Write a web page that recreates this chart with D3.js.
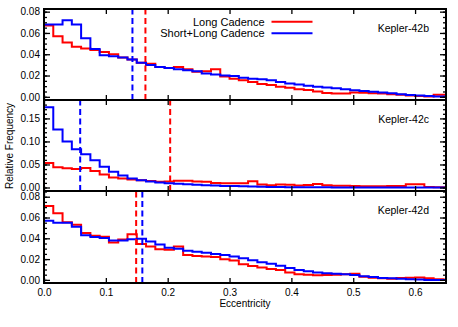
<!DOCTYPE html>
<html>
<head>
<meta charset="utf-8">
<script src="https://cdn.jsdelivr.net/npm/d3@7"></script>
<style>
  body { margin: 0; background: #fff; }
  svg text { font-family: "Liberation Sans", Arial, Helvetica, sans-serif; fill: #000; }
</style>
</head>
<body>
<div id="chart"></div>
<script>
// Chart size
const width = 458;
const height = 327;

// Eccentricity bins, 0.015 wide starting at 0
const binWidth = 0.015;
const eccMax = 0.65;
const xTicks = [0.0, 0.1, 0.2, 0.3, 0.4, 0.5, 0.6];

const planets = ["Kepler-42b", "Kepler-42c", "Kepler-42d"];
const seriesNames = ["Long Cadence", "Short+Long Cadence"];

// Relative frequency per bin
const longB = [0.067, 0.057, 0.051, 0.047, 0.0455, 0.044, 0.042, 0.040, 0.037, 0.035, 0.032,
  0.031, 0.028, 0.027, 0.028, 0.026, 0.0235, 0.024, 0.026, 0.019, 0.017, 0.0155, 0.014,
  0.012, 0.011, 0.0095, 0.0085, 0.007, 0.0065, 0.005, 0.0035, 0.003, 0.003, 0.004, 0.0038,
  0.0033, 0.003, 0.0025, 0.002, 0.0012, 0.0008, 0.0004, 0.002, 0.002];
const shortLongB = [0.068, 0.068, 0.072, 0.068, 0.055, 0.045, 0.039, 0.038, 0.037, 0.035, 0.032,
  0.030, 0.028, 0.027, 0.026, 0.025, 0.024, 0.022, 0.021, 0.020, 0.0195, 0.018, 0.017,
  0.0165, 0.0155, 0.014, 0.0125, 0.0115, 0.0105, 0.0095, 0.0088, 0.008, 0.007, 0.0062,
  0.0055, 0.0047, 0.004, 0.0033, 0.0025, 0.0018, 0.0012, 0.0008, 0.0004, 0.0003];

const longC = [0.053, 0.044, 0.042, 0.040, 0.0425, 0.036, 0.0285, 0.0215, 0.0195, 0.0175, 0.0155,
  0.014, 0.0127, 0.013, 0.0145, 0.0145, 0.013, 0.0125, 0.010, 0.009, 0.009, 0.009, 0.0134,
  0.0065, 0.005, 0.0065, 0.006, 0.0045, 0.0055, 0.0075, 0.005, 0.004, 0.004, 0.003, 0.0025,
  0.0025, 0.0025, 0.003, 0.0035, 0.007, 0.007, 0.001, 0.0005, 0.0003];
const shortLongC = [0.174, 0.126, 0.100, 0.083, 0.072, 0.059, 0.045, 0.034, 0.026, 0.0195, 0.0155,
  0.013, 0.011, 0.0095, 0.008, 0.007, 0.006, 0.005, 0.0042, 0.0035, 0.003, 0.0025, 0.002,
  0.0016, 0.0013, 0.001, 0.0008, 0.0006, 0.0005, 0.0004, 0.0003, 0, 0, 0, 0, 0, 0, 0, 0,
  0, 0, 0, 0, 0];

const longD = [0.071, 0.064, 0.0555, 0.053, 0.045, 0.0425, 0.0415, 0.036, 0.0388, 0.044, 0.0345,
  0.032, 0.0294, 0.029, 0.032, 0.024, 0.023, 0.0224, 0.022, 0.0198, 0.0186, 0.015, 0.0134,
  0.0118, 0.0105, 0.0096, 0.007, 0.0054, 0.005, 0.0045, 0.0048, 0.005, 0.0055, 0.006, 0.003,
  0.002, 0.0015, 0.0012, 0.0018, 0.002, 0.0022, 0.0015, 0.0005, 0.0003];
const shortLongD = [0.057, 0.055, 0.055, 0.051, 0.043, 0.0413, 0.0403, 0.038, 0.038, 0.039, 0.0395,
  0.037, 0.034, 0.031, 0.030, 0.028, 0.027, 0.026, 0.025, 0.024, 0.0224, 0.0208, 0.019,
  0.017, 0.0155, 0.0135, 0.0115, 0.0095, 0.0082, 0.007, 0.0064, 0.006, 0.0055, 0.0048,
  0.0035, 0.0028, 0.0018, 0.0015, 0.001, 0.0006, 0.0003, 0, 0, 0];

// Dashed marker lines (eccentricity)
const markLong = [0.164, 0.204, 0.149];
const markShortLong = [0.143, 0.0585, 0.159];

// Y tick values per panel
const yTicksMajor = [[0, 0.02, 0.04, 0.06, 0.08], [0, 0.05, 0.10, 0.15], [0, 0.02, 0.04, 0.06, 0.08]];
const yMinorStep = [0.005, 0.01, 0.005];

const longSeries = [longB, longC, longD];
const shortLongSeries = [shortLongB, shortLongC, shortLongD];

// Layout
const panelTop = [9, 100, 191];
const panelBottom = [100, 191, 283];
const yDomains = [[-0.003, 0.0825], [-0.0076, 0.19], [-0.003, 0.0855]];
const colors = ["#ff0000", "#0000ff"];

const svg = d3.select("#chart").append("svg")
  .attr("width", width)
  .attr("height", height);

const x = d3.scaleLinear().domain([0, eccMax]).range([44, 446]);

function stepPoints(vals) {
  const pts = [];
  vals.forEach(function (v, i) {
    const a = i * binWidth;
    const b = Math.min((i + 1) * binWidth, eccMax);
    if (a >= eccMax) return;
    pts.push([a, v], [b, v]);
  });
  return pts;
}

function styleAxis(g) {
  g.select(".domain").remove();
  g.selectAll(".tick line").attr("stroke", "#000").attr("stroke-width", 1.3);
  g.selectAll("text").attr("font-family", "Liberation Sans, Arial, sans-serif")
    .attr("font-size", 10).attr("fill", "#000");
}

planets.forEach(function (name, i) {
  const y = d3.scaleLinear().domain(yDomains[i]).range([panelBottom[i], panelTop[i]]);
  const g = svg.append("g");

  g.append("clipPath").attr("id", "clip" + i)
    .append("rect")
    .attr("x", x(0)).attr("y", panelTop[i])
    .attr("width", x(eccMax) - x(0)).attr("height", panelBottom[i] - panelTop[i]);

  const plot = g.append("g").attr("clip-path", "url(#clip" + i + ")");

  const line = d3.line().x(d => x(d[0])).y(d => y(d[1]));

  // histograms
  [longSeries[i], shortLongSeries[i]].forEach(function (vals, s) {
    plot.append("path")
      .datum(stepPoints(vals))
      .attr("d", line)
      .attr("fill", "none")
      .attr("stroke", colors[s])
      .attr("stroke-width", 2);
  });

  // dashed markers
  [markLong[i], markShortLong[i]].forEach(function (m, s) {
    plot.append("line")
      .attr("x1", x(m)).attr("x2", x(m))
      .attr("y1", panelBottom[i]).attr("y2", panelTop[i])
      .attr("stroke", colors[s])
      .attr("stroke-width", 2)
      .attr("stroke-dasharray", "6,3.5");
  });

  // minor y ticks
  const minor = d3.range(0, yDomains[i][1], yMinorStep[i]);
  g.append("g").attr("transform", "translate(" + x(0) + ",0)")
    .call(d3.axisLeft(y).tickValues(minor).tickSize(-3).tickFormat(""))
    .call(styleAxis);
  g.append("g").attr("transform", "translate(" + x(eccMax) + ",0)")
    .call(d3.axisRight(y).tickValues(minor).tickSize(-3).tickFormat(""))
    .call(styleAxis);

  // major y ticks
  g.append("g").attr("transform", "translate(" + x(0) + ",0)")
    .call(d3.axisLeft(y).tickValues(yTicksMajor[i]).tickSize(-6).tickPadding(4)
      .tickFormat(d3.format(".2f")))
    .call(styleAxis);
  g.append("g").attr("transform", "translate(" + x(eccMax) + ",0)")
    .call(d3.axisRight(y).tickValues(yTicksMajor[i]).tickSize(-6).tickFormat(""))
    .call(styleAxis);

  // x ticks top and bottom
  g.append("g").attr("transform", "translate(0," + panelTop[i] + ")")
    .call(d3.axisTop(x).tickValues(xTicks).tickSize(-5).tickFormat(""))
    .call(styleAxis);
  const xb = g.append("g").attr("transform", "translate(0," + panelBottom[i] + ")")
    .call(d3.axisBottom(x).tickValues(xTicks).tickSize(-5).tickPadding(6)
      .tickFormat(i === planets.length - 1 ? d3.format(".1f") : ""))
    .call(styleAxis);

  // frame
  g.append("rect")
    .attr("x", x(0)).attr("y", panelTop[i])
    .attr("width", x(eccMax) - x(0)).attr("height", panelBottom[i] - panelTop[i])
    .attr("fill", "none").attr("stroke", "#000").attr("stroke-width", 2);

  // planet label
  g.append("text")
    .attr("x", 429).attr("y", panelTop[i] + 22.5)
    .attr("text-anchor", "end")
    .attr("font-size", 10.5)
    .text(name);
});

// legend
seriesNames.forEach(function (n, s) {
  const ly = 21.7 + s * 11.6;
  svg.append("text")
    .attr("x", 264.5).attr("y", ly + 3.8)
    .attr("text-anchor", "end")
    .attr("font-size", 11)
    .text(n);
  svg.append("line")
    .attr("x1", 271.5).attr("x2", 312.5)
    .attr("y1", ly).attr("y2", ly)
    .attr("stroke", colors[s]).attr("stroke-width", 2);
});

// axis titles
svg.append("text")
  .attr("x", 245).attr("y", 307)
  .attr("text-anchor", "middle")
  .attr("font-size", 10)
  .text("Eccentricity");

svg.append("text")
  .attr("transform", "translate(13,146) rotate(-90)")
  .attr("text-anchor", "middle")
  .attr("font-size", 10)
  .text("Relative Frequency");
</script>
</body>
</html>
